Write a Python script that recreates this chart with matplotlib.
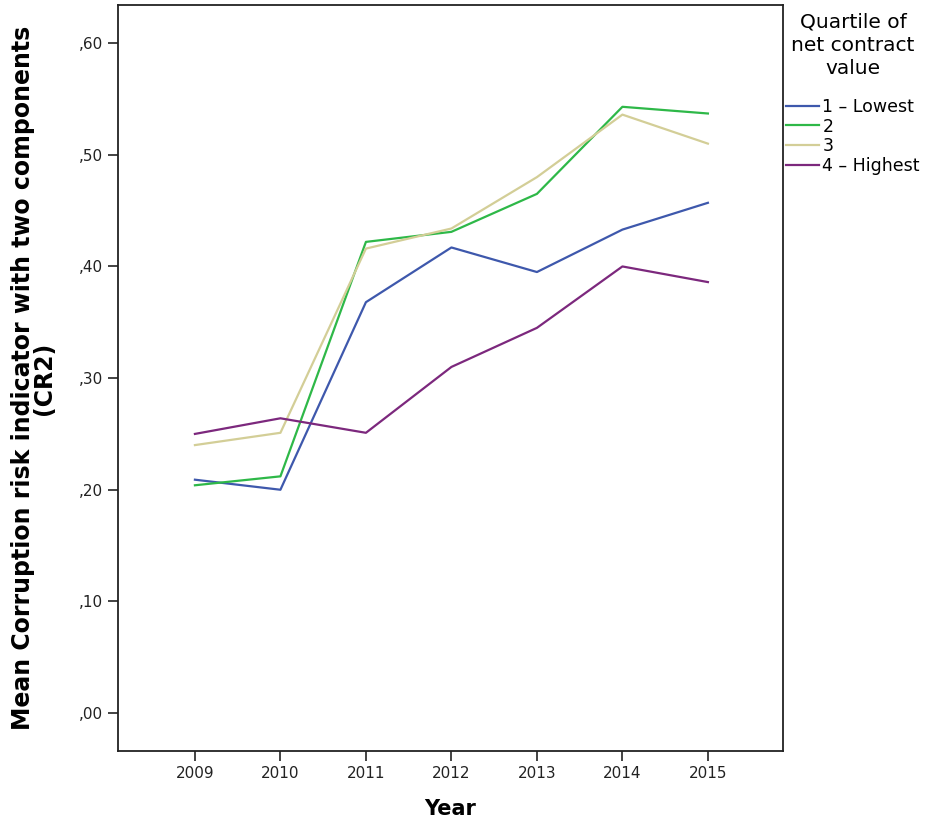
import matplotlib.pyplot as plt
from matplotlib.ticker import FuncFormatter

years = [2009, 2010, 2011, 2012, 2013, 2014, 2015]
series_names = ["1 – Lowest", "2", "3", "4 – Highest"]
q1_lowest = [0.209, 0.200, 0.368, 0.417, 0.395, 0.433, 0.457]
q2 = [0.204, 0.212, 0.422, 0.431, 0.465, 0.543, 0.537]
q3 = [0.240, 0.251, 0.416, 0.434, 0.480, 0.536, 0.510]
q4_highest = [0.250, 0.264, 0.251, 0.310, 0.345, 0.400, 0.386]
colors = ["#3E58AC", "#2EB848", "#D3CE97", "#7C287D"]

fig = plt.figure(figsize=(9.29, 8.25), dpi=100)
ax = fig.add_axes([0.127, 0.0897, 0.716, 0.904])

for vals, name, c in zip([q1_lowest, q2, q3, q4_highest], series_names, colors):
    ax.plot(years, vals, color=c, linewidth=1.6, label=name)

ax.set_xlim(2008.1, 2015.88)
ax.set_ylim(-0.034, 0.634)
ax.set_xticks(years)
ax.set_yticks([0.0, 0.1, 0.2, 0.3, 0.4, 0.5, 0.6])
ax.yaxis.set_major_formatter(FuncFormatter(lambda v, p: ("%.2f" % v)[1:].replace(".", ",")))
ax.tick_params(axis="both", direction="out", length=7, width=1.2, labelsize=11, colors="#222222")
for s in ax.spines.values():
    s.set_linewidth(1.3)
    s.set_color("#222222")

ax.set_xlabel("Year", fontsize=15, fontweight="bold", labelpad=13)
ax.set_ylabel("Mean Corruption risk indicator with two components\n(CR2)",
              fontsize=17, fontweight="bold", linespacing=0.85)
ax.yaxis.set_label_coords(-0.093, 0.5)

leg = ax.legend(title="Quartile of\nnet contract\nvalue", loc="upper left",
                bbox_to_anchor=(0.846, 0.985), bbox_transform=fig.transFigure,
                frameon=False, fontsize=12.5, title_fontsize=14.5,
                handlelength=1.9, handletextpad=0.2, labelspacing=0.1,
                borderaxespad=0, borderpad=0)
leg.get_title().set_multialignment("center")
leg.get_title().set_linespacing(1.3)
leg._legend_box.sep = 14

plt.savefig("out.png", dpi=100)
